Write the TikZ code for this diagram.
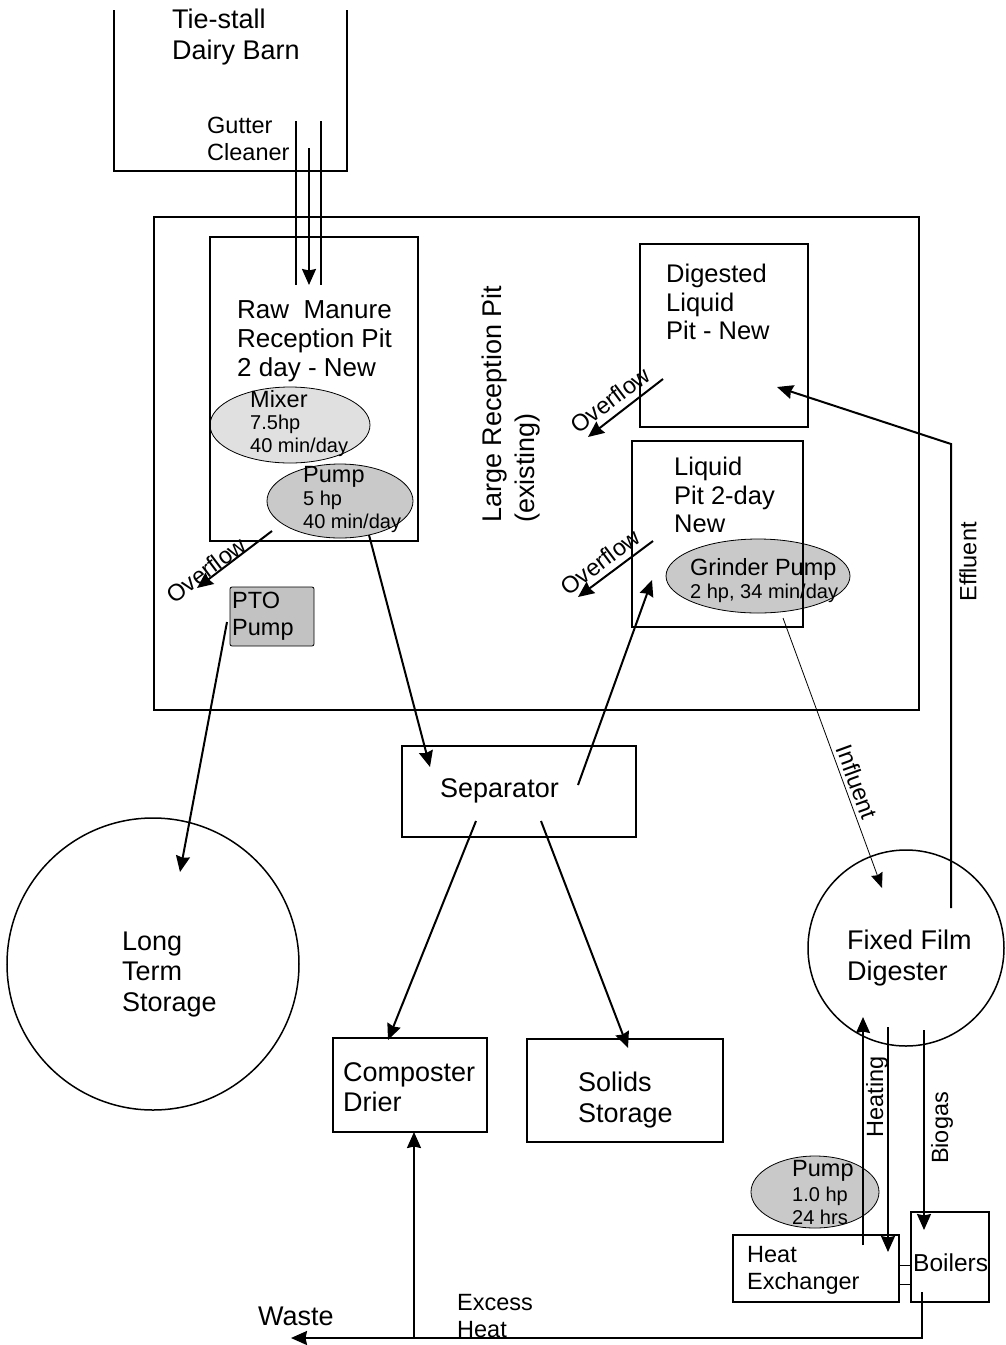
\documentclass[tikz,border=0pt]{standalone}
\usepackage{fontspec}
\setmainfont{Liberation Sans}
\usetikzlibrary{arrows.meta,shapes.geometric}
\definecolor{lightfill}{gray}{0.88}
\definecolor{midfill}{gray}{0.79}
\definecolor{ptofill}{gray}{0.76}
\begin{document}
\begin{tikzpicture}[x=1pt,y=-1pt,
  wall/.style={line width=2pt},
  box/.style={draw, line width=2pt, inner sep=0pt},
  oval/.style={ellipse, draw, line width=0.8pt, inner sep=0pt},
  tank/.style={circle, draw, line width=1.5pt, inner sep=0pt},
  arr/.style={line width=2pt, -{Stealth[length=16pt,width=14pt,inset=1.5pt]}},
  thinarr/.style={line width=0.8pt, -{Stealth[length=15pt,width=12pt,inset=1.5pt]}},
  lbl/.style={inner sep=0pt, align=left, anchor=west},
  big/.style={font=\fontsize{27}{30.5}\selectfont},
  mid/.style={font=\fontsize{25.5}{28.5}\selectfont},
  med/.style={font=\fontsize{23.5}{27}\selectfont},
  sml/.style={font=\fontsize{20}{23}\selectfont}]
\useasboundingbox (0,0) rectangle (1005,1345);

% barn
\draw[wall] (114,10) -- (114,171) -- (347,171) -- (347,10);
\node[lbl, big] (barn) at (172,37) {Tie-stall\\Dairy Barn};
\node[lbl, med] (gutter) at (207,138.5) {Gutter\\Cleaner};

% large reception pit
\node[box, minimum width=765pt, minimum height=493pt] (bigpit) at (536.5,463.5) {};
\node[lbl, big, rotate=90] (lrp) at (495,523) {Large Reception Pit};
\node[lbl, big, rotate=90] (lrpx) at (528,523) {(existing)};

% raw manure pit
\node[oval, fill=lightfill, minimum width=160pt, minimum height=76pt] (mixer) at (290,425) {};
\node[oval, fill=midfill, minimum width=146pt, minimum height=74pt] (pump1) at (340,501) {};
\node[box, minimum width=208pt, minimum height=304pt] (rawpit) at (314,389) {};
\node[lbl, font=\fontsize{26}{29}\selectfont] (rawtxt) at (237,341) {Raw\ \ Manure\\Reception Pit\\2 day - New};
\node[lbl, med] (mixtxt) at (250,399) {Mixer};
\node[lbl, sml] (mixtxt2) at (250,436) {7.5hp\\40 min/day};
\node[lbl, med] (p1txt) at (303,477) {Pump};
\node[lbl, sml] (p1txt2) at (303,512) {5 hp\\40 min/day};

% PTO pump
\node[draw, line width=0.8pt, fill=ptofill, rounded corners=2pt, minimum width=84pt, minimum height=59pt, inner sep=0pt] (pto) at (272,616.5) {};
\node[lbl, med] (ptotxt) at (232,616) {PTO\\Pump};

% digested liquid pit
\node[box, minimum width=168pt, minimum height=183pt] (digpit) at (724,335.5) {};
\node[lbl, mid] (digtxt) at (666,302) {Digested\\Liquid\\Pit - New};

% liquid pit
\node[oval, fill=midfill, minimum width=184pt, minimum height=74pt] (grinder) at (758,576) {};
\node[box, minimum width=171pt, minimum height=186pt] (liqpit) at (717.5,534) {};
\node[lbl, mid] (liqtxt) at (674,495) {Liquid\\Pit 2-day\\New};
\node[lbl, med] (grtxt) at (690,569) {Grinder Pump};
\node[lbl, sml] (grtxt2) at (690,593) {2 hp, 34 min/day};

% separator
\node[box, minimum width=234pt, minimum height=91pt] (sep) at (519,791.5) {};
\node[lbl, big] (septxt) at (440,791) {Separator};

% long term storage
\node[tank, minimum size=292pt] (lts) at (153,964) {};
\node[lbl, big] (ltstxt) at (122,974) {Long\\Term\\Storage};

% composter / solids
\node[box, minimum width=154pt, minimum height=94pt] (comp) at (410,1085) {};
\node[lbl, big] (comptxt) at (343,1087) {Composter\\Drier};
\node[box, minimum width=196pt, minimum height=103pt] (solids) at (625,1090.5) {};
\node[lbl, big] (soltxt) at (578,1100) {Solids\\Storage};

% digester
\node[tank, minimum size=196pt] (dig) at (906,948) {};
\node[lbl, big] (digester) at (847,958) {Fixed Film\\Digester};

% pump 2, heat exchanger, boilers
\node[oval, fill=midfill, minimum width=128pt, minimum height=72pt] (pump2) at (815,1192) {};
\node[lbl, med] (p2txt) at (792,1171) {Pump};
\node[lbl, sml] (p2txt2) at (792,1206) {1.0 hp\\24 hrs};
\node[box, minimum width=166pt, minimum height=67pt] (hx) at (816,1268.5) {};
\node[lbl, med] (hxtxt) at (747,1270) {Heat\\Exchanger};
\node[box, minimum width=78pt, minimum height=90pt] (boil) at (950,1257) {};
\node[lbl, font=\fontsize{24.5}{27}\selectfont] (boiltxt) at (913,1263) {Boilers};
\draw[line width=0.6pt] (hx.east |- 0,1265) -- (boil.west |- 0,1265);
\draw[line width=0.6pt] (hx.east |- 0,1284) -- (boil.west |- 0,1284);

% gutter cleaner pipes
\coordinate (gA1) at (296,121); \coordinate (gA2) at (296,285);
\coordinate (gB1) at (321,121); \coordinate (gB2) at (321,285);
\coordinate (gC1) at (309,148); \coordinate (gC2) at (309,285);
\draw[wall] (gA1) -- (gA2);
\draw[wall] (gB1) -- (gB2);
\draw[arr] (gC1) -- (gC2);

% overflows
\coordinate (ov1a) at (272,531); \coordinate (ov1b) at (197,588);
\draw[arr] (ov1a) -- (ov1b);
\node[med, inner sep=0pt, rotate=37] (ov1) at (206,570) {Overflow};
\coordinate (ov2a) at (663,379); \coordinate (ov2b) at (588,437);
\draw[arr] (ov2a) -- (ov2b);
\node[med, inner sep=0pt, rotate=37] (ov2) at (610,400) {Overflow};
\coordinate (ov3a) at (653,541); \coordinate (ov3b) at (578,597);
\draw[arr] (ov3a) -- (ov3b);
\node[med, inner sep=0pt, rotate=37] (ov3) at (600,562) {Overflow};

% flows
\coordinate (ptoOut) at (227,622); \coordinate (ltsIn) at (180,872);
\draw[arr] (ptoOut) -- (ltsIn);
\coordinate (p1Out) at (369,535); \coordinate (sepIn) at (430,767);
\draw[arr] (p1Out) -- (sepIn);
\coordinate (sepOut1) at (578,785); \coordinate (liqIn) at (652,580);
\draw[arr] (sepOut1) -- (liqIn);
\coordinate (sepOut2) at (476,821); \coordinate (compIn) at (388,1040);
\draw[arr] (sepOut2) -- (compIn);
\coordinate (sepOut3) at (541,821); \coordinate (solIn) at (628,1048);
\draw[arr] (sepOut3) -- (solIn);

% influent
\coordinate (grOut) at (783,618); \coordinate (digIn) at (882,888);
\draw[thinarr] (grOut) -- (digIn);
\node[med, inner sep=0pt, rotate=-70] (infl) at (857,782) {Influent};

% effluent
\coordinate (digOut) at (951,908); \coordinate (effBend) at (951,444); \coordinate (digpitIn) at (777,387);
\draw[arr] (digOut) -- (effBend) -- (digpitIn);
\node[med, inner sep=0pt, rotate=90] (effl) at (968,562) {Effluent};

% heating / biogas
\coordinate (heatS) at (863,1245); \coordinate (heatE) at (863,1017);
\draw[arr] (heatS) -- (heatE);
\coordinate (retS) at (888,1027); \coordinate (retE) at (888,1252);
\draw[arr] (retS) -- (retE);
\node[med, inner sep=0pt, rotate=90] (heating) at (877,1097) {Heating};
\coordinate (bgS) at (924,1030); \coordinate (bgE) at (924,1230);
\draw[arr] (bgS) -- (bgE);
\node[med, inner sep=0pt, rotate=90] (biogas) at (942,1128) {Biogas};

% excess heat / waste
\coordinate (boilOut) at (922,1292); \coordinate (exCorner) at (922,1338);
\coordinate (wasteEnd) at (291,1338); \coordinate (exJoin) at (414,1338); \coordinate (compHeat) at (414,1132);
\draw[arr] (boilOut) -- (exCorner) -- (wasteEnd);
\draw[arr] (exJoin) -- (compHeat);
\node[lbl, big] (waste) at (258,1316) {Waste};
\node[lbl, med] (excess) at (457,1316) {Excess\\Heat};
\end{tikzpicture}
\end{document}
